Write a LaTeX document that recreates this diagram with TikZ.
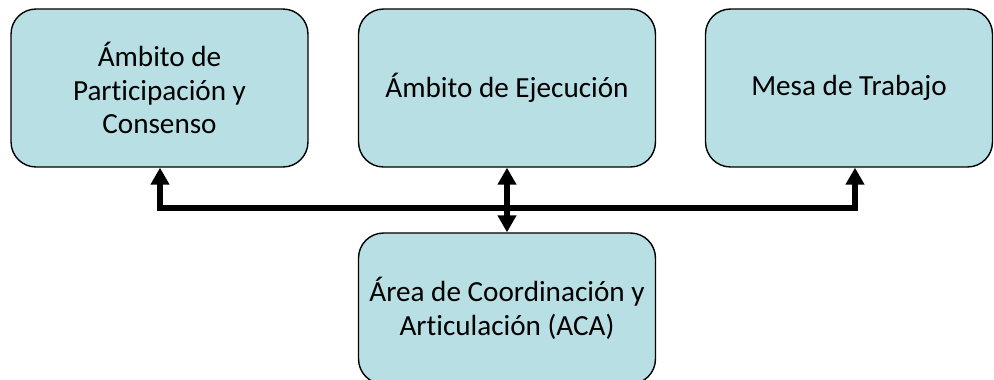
\documentclass[tikz,border=0pt]{standalone}
\usepackage{fontspec}
\setmainfont{Carlito}[RawFeature=-liga]
\usetikzlibrary{arrows.meta}
\definecolor{boxfill}{RGB}{184,223,227}

\begin{document}
\begin{tikzpicture}[x=0.02cm,y=-0.02cm,
    area/.style={draw=black,line width=0.8pt,fill=boxfill,rounded corners=0.5cm,
        align=center,inner sep=0pt,minimum width=5.94cm,minimum height=3.16cm,
        font=\fontsize{16.6}{19.3}\selectfont},
    bus/.style={line width=3.4pt,>={Triangle[width=0.36cm,length=0.34cm]}}]
\useasboundingbox (0,0) rectangle (994,379);
% upper boxes
\node[area] (part) at (159.5,88) {Ámbito de\\Participación y\\Consenso};
\node[area] (eje) at (507,88) {Ámbito de Ejecución};
\node[area,minimum width=5.74cm] (mesa) at (849,88) {Mesa de Trabajo};
% lower box
\node[area,minimum height=3.02cm] (aca) at (507,308.5) {Área de Coordinación y\\Articulación (ACA)};
% bus line
\coordinate (busL) at (160,208);
\coordinate (busR) at (855,208);
\draw[bus,<->] (part.south -| busL) -- (busL) -- (busR) -- (busR |- mesa.south);
\draw[bus,<->] (eje.south) -- (aca.north);
\end{tikzpicture}
\end{document}
